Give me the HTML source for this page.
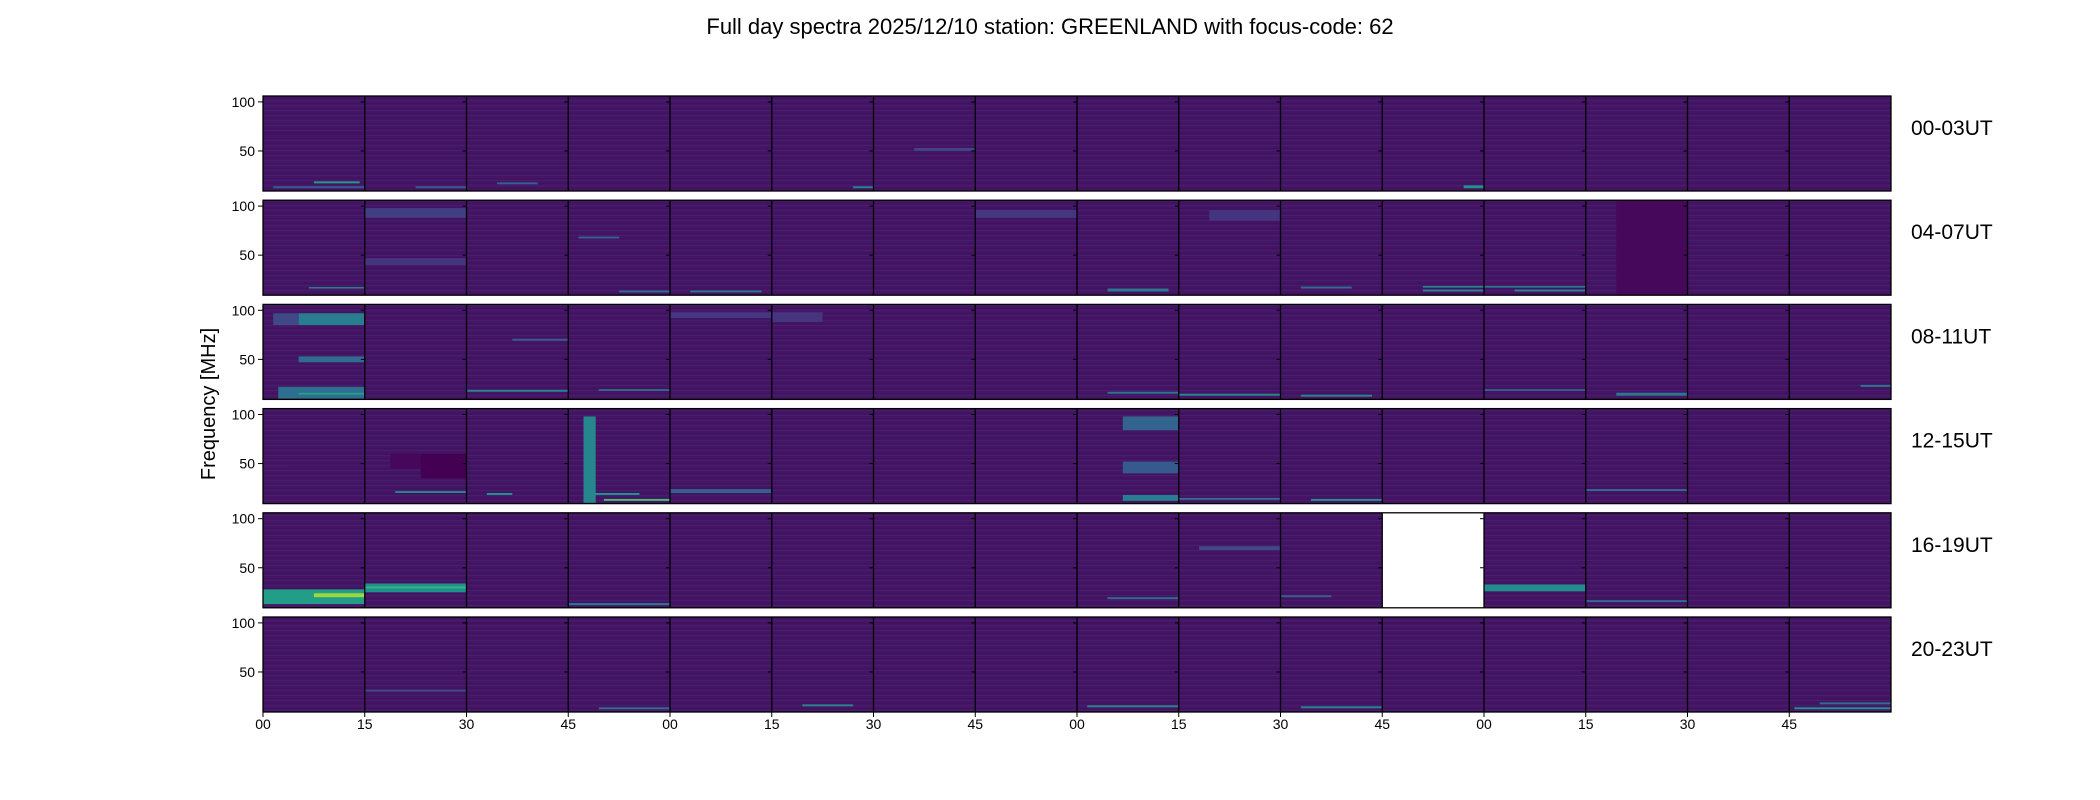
<!DOCTYPE html>
<html><head><meta charset="utf-8">
<style>
html,body{margin:0;padding:0;background:#fff;}
svg{display:block;font-family:"Liberation Sans","DejaVu Sans",sans-serif;}
</style></head>
<body>
<svg id="chart" width="2100" height="800" viewBox="0 0 2100 800">
<defs>
<pattern id="stripes" width="8" height="5" patternUnits="userSpaceOnUse">
<rect x="0" y="0" width="8" height="1" fill="#3b528b" opacity="0.18"/>
<rect x="0" y="3" width="8" height="1" fill="#2a0a45" opacity="0.18"/>
</pattern>
</defs>
<text x="1050" y="34" text-anchor="middle" font-size="22" fill="#000">Full day spectra 2025/12/10 station: GREENLAND with focus-code: 62</text>
<text transform="translate(215,404) rotate(-90)" text-anchor="middle" font-size="20" fill="#000">Frequency [MHz]</text>
<g id="plot"></g>
</svg>
<script>
// ---- data ----
const rowLabels = ["00-03UT","04-07UT","08-11UT","12-15UT","16-19UT","20-23UT"];
const xTickLabels = ["00","15","30","45","00","15","30","45","00","15","30","45","00","15","30","45"];
const yTickValues = [100, 50];
const freqRange = [9.2, 106];
const missingPanels = [[4, 11]];
// features: [row, panel, freqLow, freqHigh, tStart, tEnd, level(0-1)]
const features = [
 [0,0,17,19,0.5,0.95,0.55],[0,0,12,14,0.1,1,0.3],[0,0,66,69,0,1,0.04],[0,1,12,14,0.5,1,0.3],
 [0,2,16,18,0.3,0.7,0.3],[0,5,12,14,0.8,1,0.45],[0,11,12,15,0.8,1,0.5],[0,6,50,53,0.4,1,0.2],
 [1,0,16,17.5,0.45,1,0.45],[1,1,88,98,0,1,0.18],[1,1,40,47,0,1,0.15],[1,3,67,69,0.1,0.5,0.3],[1,3,12,14,0.5,1,0.35],
 [1,4,12,14,0.2,0.9,0.4],[1,7,88,96,0,1,0.16],[1,8,13,16,0.3,0.9,0.4],[1,9,85,96,0.3,1,0.15],[1,10,16,18,0.2,0.7,0.35],
 [1,11,17,18.5,0.4,1,0.5],[1,11,13,15,0.4,1,0.45],[1,12,17,18.5,0,1,0.45],[1,12,13,15,0.3,1,0.45],[1,13,10,106,0.3,1,0.02],
 [2,0,85,97,0.35,1,0.42],[2,0,85,97,0.1,0.35,0.22],[2,0,47,53,0.35,1,0.35],[2,0,10,22,0.15,1,0.36],[2,0,14,16,0.35,1,0.55],
 [2,2,69,71,0.45,1,0.3],[2,2,17,19,0,1,0.45],[2,3,18,19.5,0.3,1,0.45],[2,4,92,98,0,1,0.16],[2,5,88,98,0,0.5,0.15],
 [2,8,15,17,0.3,1,0.4],[2,9,13,15,0,1,0.45],[2,10,12,14,0.2,0.9,0.45],[2,12,18,19.5,0,1,0.4],[2,13,13,16,0.3,1,0.4],[2,15,22,24,0.7,1,0.4],
 [3,0,45,48,0.25,1,0.05],[3,1,35,60,0.55,1,0.0],[3,1,45,60,0.25,0.55,0.02],[3,1,20,22,0.3,1,0.45],
 [3,2,18,20,0.2,0.45,0.5],[3,3,10,98,0.15,0.27,0.45],[3,3,12,14,0.35,1,0.7],[3,3,18,20,0.25,0.7,0.5],
 [3,4,20,24,0,1,0.3],[3,8,84,98,0.45,1,0.32],[3,8,40,52,0.45,1,0.28],[3,8,12,18,0.45,1,0.42],
 [3,9,13,15,0,1,0.35],[3,10,12,14,0.3,1,0.5],[3,13,22,24,0,1,0.35],
 [4,0,13,28,0,1,0.55],[4,0,20,24,0.5,1,0.85],[4,1,25,34,0,1,0.5],[4,1,29,31,0,1,0.65],[4,3,12,14,0,1,0.4],
 [4,8,18,20,0.3,1,0.35],[4,9,68,72,0.2,1,0.22],[4,10,20,22,0,0.5,0.3],[4,12,26,33,0,1,0.48],[4,13,15,17,0,1,0.35],
 [5,3,12,14,0.3,1,0.35],[5,5,15,17,0.3,0.8,0.45],[5,8,14,16,0.1,1,0.45],[5,10,13,15,0.2,1,0.45],
 [5,15,12,14,0.05,1,0.5],[5,15,17,19,0.3,1,0.35],[5,1,30,32,0,1,0.22]
];
// ---- layout ----
const X0 = 263, PW = 101.75, NP = 16, ROW0 = 96, PITCH = 104.2, RH = 95;
const viridis = ["#440154","#482475","#414487","#355f8d","#2a788e","#21918c","#22a884","#44bf70","#7ad151","#bddf26","#fde725"];
function cmap(v){ v=Math.max(0,Math.min(1,v)); const i=Math.min(9,Math.floor(v*10)); const f=v*10-i;
  const a=viridis[i], b=viridis[i+1]; const p=(s,k)=>parseInt(s.substr(k,2),16);
  const c=[1,3,5].map(k=>Math.round(p(a,k)+(p(b,k)-p(a,k))*f)); return `rgb(${c.join(',')})`; }
function xPos(panel, t){ return X0 + (panel + t) * PW; }
function yPos(row, f){ return ROW0 + row*PITCH + (freqRange[1]-f)/(freqRange[1]-freqRange[0])*RH; }
const NS="http://www.w3.org/2000/svg";
const plot=document.getElementById('plot');
function mk(tag, attrs, parent){ const e=document.createElementNS(NS,tag); for(const k in attrs) e.setAttribute(k,attrs[k]); (parent||plot).appendChild(e); return e; }
const W = NP*PW;
rowLabels.forEach((lab, r)=>{
  const top = ROW0 + r*PITCH;
  const g = mk('g',{});
  
  
  const bg = mk('rect',{x:X0,y:top,width:W,height:RH,fill:'#461465'},g);
  
  
  mk('rect',{x:X0,y:top,width:W,height:RH,fill:'url(#stripes)'},g);
  features.filter(f=>f[0]===r).forEach(f=>{
    const y1=yPos(r,f[3]), y2=yPos(r,f[2]);
    const rc = mk('rect',{x:xPos(f[1],f[4]),y:y1,width:(f[5]-f[4])*PW,height:Math.max(1,y2-y1),fill:cmap(f[6])},g);
    
    
  });
  missingPanels.filter(m=>m[0]===r).forEach(m=>{
    const w = mk('rect',{x:xPos(m[1],0),y:top,width:PW,height:RH,fill:'#fff'},g);
    
    
  });
  for(let p=1;p<NP;p++){
    mk('line',{x1:xPos(p,0),x2:xPos(p,0),y1:top,y2:top+RH,stroke:'#000','stroke-width':1.3},g);
    yTickValues.forEach(v=>mk('line',{x1:xPos(p,0)-4,x2:xPos(p,0),y1:yPos(r,v),y2:yPos(r,v),stroke:'#000','stroke-width':1},g));
  }
  const fr = mk('rect',{x:X0,y:top,width:W,height:RH,fill:'none',stroke:'#000','stroke-width':1.3},g);
  
  
  yTickValues.forEach(v=>{
    mk('line',{x1:X0-5,x2:X0,y1:yPos(r,v),y2:yPos(r,v),stroke:'#000','stroke-width':1},g);
    const t = mk('text',{x:X0-8,y:yPos(r,v)+5,'text-anchor':'end','font-size':14,fill:'#000'},g);
    t.textContent=v;
    
    
  });
  const lt = mk('text',{x:1911,y:top+39,'font-size':21,fill:'#000'},g);
  lt.textContent=lab;
  
  
});
const lastBottom = ROW0 + 5*PITCH + RH;
xTickLabels.forEach((lab,i)=>{
  mk('line',{x1:xPos(i,0),x2:xPos(i,0),y1:lastBottom,y2:lastBottom+5,stroke:'#000','stroke-width':1});
  const t = mk('text',{x:xPos(i,0),y:lastBottom+17,'text-anchor':'middle','font-size':14,fill:'#000'});
  t.textContent=lab;
  
  
});
</script>
</body></html>
